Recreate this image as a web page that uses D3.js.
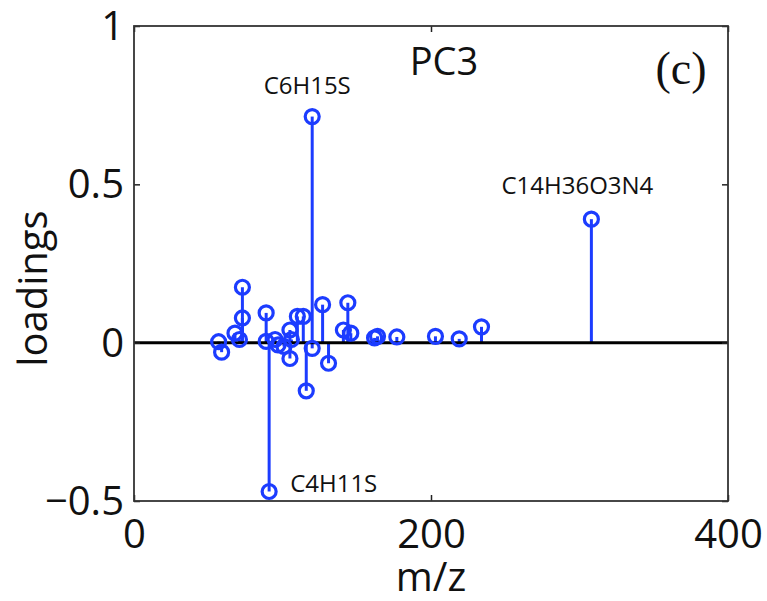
<!DOCTYPE html>
<html>
<head>
<meta charset="utf-8">
<script src="https://cdn.jsdelivr.net/npm/d3@7"></script>
<style>
  html, body { margin: 0; padding: 0; background: #fff; }
  svg { display: block; }
</style>
</head>
<body>
<svg id="chart" width="767" height="601"></svg>
<script>
// ---- data ----
const mz = [57, 59, 68, 71, 73, 73, 89, 89, 91, 95, 97, 101, 105, 105, 106, 110, 114, 116, 120, 120, 127, 131, 141, 144, 146, 162, 164, 177, 203, 219, 234, 308];
const loadings = [0.003, -0.03, 0.03, 0.01, 0.175, 0.078, 0.094, 0.004, -0.47, 0.01, -0.007, -0.012, 0.04, -0.05, 0.01, 0.083, 0.083, -0.152, -0.018, 0.714, 0.12, -0.065, 0.04, 0.126, 0.03, 0.015, 0.02, 0.018, 0.02, 0.012, 0.05, 0.39];
const xTicks = [0, 200, 400];
const yTicks = [-0.5, 0, 0.5, 1];
const yTickLabels = ["\u22120.5", "0", "0.5", "1"];
const annLabels = ["C6H15S", "C14H36O3N4", "C4H11S"];
const annMz = [120, 308, 91];
const annVal = [0.714, 0.39, -0.47];

// ---- layout ----
const svg = d3.select("#chart");
const L = 134, R = 728, T = 26, B = 501;
const x = d3.scaleLinear().domain([0, 400]).range([L, R]);
const y = d3.scaleLinear().domain([-0.5, 1]).range([B, T]);
const blue = "#1c3cff";
const sans = "'Open Sans', 'Noto Sans', sans-serif";

// stems
const pts = mz.map((m, i) => ({ m, v: loadings[i] }));
svg.append("g").selectAll("line").data(pts).join("line")
  .attr("x1", d => x(d.m)).attr("x2", d => x(d.m))
  .attr("y1", y(0)).attr("y2", d => y(d.v))
  .attr("stroke", blue).attr("stroke-width", 3);

// zero baseline
svg.append("line")
  .attr("x1", L).attr("x2", R).attr("y1", y(0)).attr("y2", y(0))
  .attr("stroke", "#000").attr("stroke-width", 3);

// markers
svg.append("g").selectAll("circle").data(pts).join("circle")
  .attr("cx", d => x(d.m)).attr("cy", d => y(d.v)).attr("r", 7)
  .attr("fill", "none").attr("stroke", blue).attr("stroke-width", 3.2);

// axes (inward ticks, box)
const tickLen = 6;
const axB = svg.append("g").attr("transform", `translate(0,${B})`)
  .call(d3.axisBottom(x).tickValues(xTicks).tickSizeInner(-tickLen).tickSizeOuter(0).tickFormat(d3.format("d")));
const axT = svg.append("g").attr("transform", `translate(0,${T})`)
  .call(d3.axisTop(x).tickValues(xTicks).tickSizeInner(-tickLen).tickSizeOuter(0).tickFormat(""));
const axL = svg.append("g").attr("transform", `translate(${L},0)`)
  .call(d3.axisLeft(y).tickValues(yTicks).tickSizeInner(-tickLen).tickSizeOuter(0).tickFormat((d, i) => yTickLabels[i]));
const axR = svg.append("g").attr("transform", `translate(${R},0)`)
  .call(d3.axisRight(y).tickValues(yTicks).tickSizeInner(-tickLen).tickSizeOuter(0).tickFormat(""));
[axB, axT, axL, axR].forEach(a => {
  a.select(".domain").remove();
  a.selectAll(".tick line").attr("stroke", "#222").attr("stroke-width", 1.5);
});
axB.selectAll(".tick text")
  .attr("y", 19).attr("dy", "0.71em")
  .attr("font-family", sans).attr("font-size", 40).attr("fill", "#111");
axL.selectAll(".tick text")
  .attr("x", -10).attr("dy", "0.34em")
  .attr("font-family", sans).attr("font-size", 40).attr("fill", "#111");

svg.append("rect")
  .attr("x", L).attr("y", T).attr("width", R - L).attr("height", B - T)
  .attr("fill", "none").attr("stroke", "#333").attr("stroke-width", 1.8);

// axis titles
svg.append("text").attr("x", (L + R) / 2).attr("y", 591)
  .attr("text-anchor", "middle").attr("font-family", sans).attr("font-size", 40)
  .attr("fill", "#111").text("m/z");
svg.append("text").attr("transform", `translate(47,${(T + B) / 2 + 25}) rotate(-90)`)
  .attr("text-anchor", "middle").attr("font-family", sans).attr("font-size", 40)
  .attr("fill", "#111").text("loadings");

// panel title + tag
svg.append("text").attr("x", 444).attr("y", 75)
  .attr("text-anchor", "middle").attr("font-family", sans).attr("font-size", 38)
  .attr("fill", "#111").text("PC3");
svg.append("text").attr("x", 681).attr("y", 84)
  .attr("text-anchor", "middle").attr("font-family", "'Liberation Serif', 'Times New Roman', serif").attr("font-size", 46)
  .attr("fill", "#111").text("(c)");

// annotations
const ann = annLabels.map((t, i) => ({ t, m: annMz[i], v: annVal[i] }));
const annOff = [[-5, -23, "middle"], [-14, -25, "middle"], [21, -0, "start"]];
svg.append("g").selectAll("text").data(ann).join("text")
  .attr("x", (d, i) => x(d.m) + annOff[i][0])
  .attr("y", (d, i) => y(d.v) + annOff[i][1])
  .attr("text-anchor", (d, i) => annOff[i][2])
  .attr("font-family", sans).attr("font-size", 24).attr("fill", "#111")
  .text(d => d.t);
</script>
</body>
</html>
